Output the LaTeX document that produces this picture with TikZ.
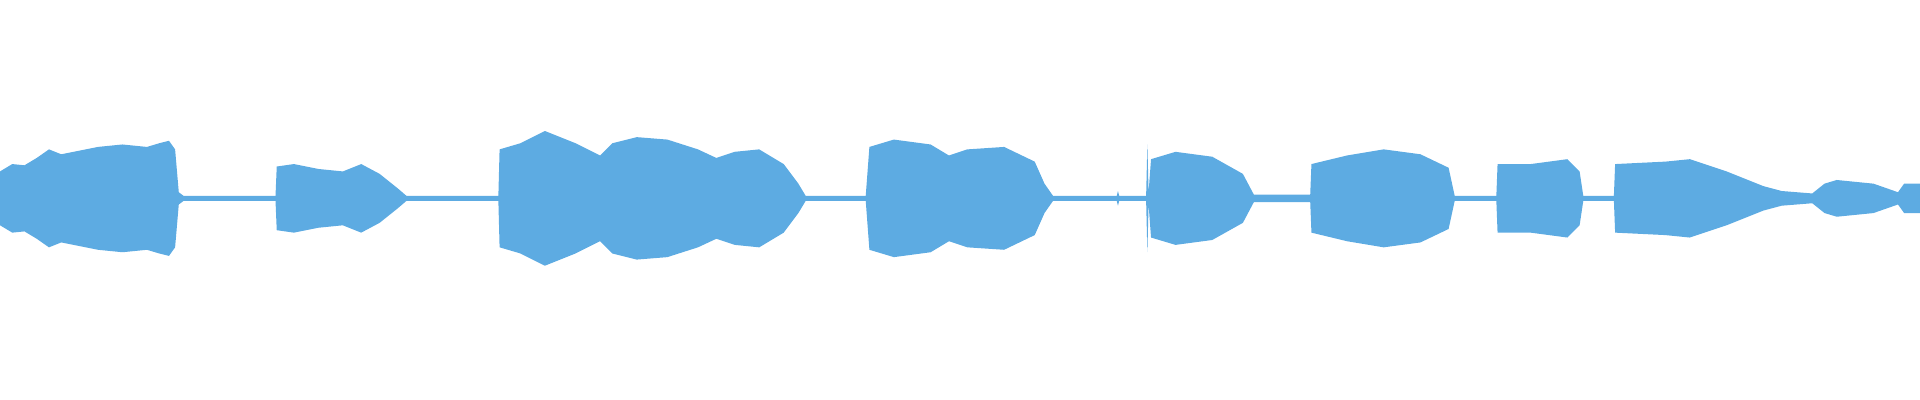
\documentclass[tikz,border=0pt]{standalone}
\definecolor{wave}{RGB}{93,171,226}
\begin{document}
\begin{tikzpicture}[x=0.012245cm,y=-0.012245cm]
\useasboundingbox (0,0) rectangle (1568,326.6);
\def\env{0/22,10/28,20/27,30/33,40/40,50/36,60/38,80/42,100/44,120/42,130/45,138/47,143/40,146/5,150/2,225/2,226/26,240/28,260/24,280/22,295/28,310/20,325/8,332/2,407/2,408/40,425/45,445/55,470/45,490/35,500/45,520/50,545/48,570/40,585/33,600/38,620/40,640/28,652/12,658/2,707/2,710/42,730/48,760/44,775/35,790/40,820/42,845/30,853/12,860/2,912/2,913/6,914/2,936/2,937/44,938/5,940/32,960/38,990/34,1015/20,1024/3,1070/3,1071/28,1100/35,1130/40,1160/36,1183/25,1188/2,1222/2,1223/28,1250/28,1280/32,1290/22,1293/2,1318/2,1319/28,1360/30,1380/32,1410/22,1440/10,1455/6,1480/4,1490/12,1500/15,1530/12,1550/5,1555/12,1568/12}
\fill[wave] (0,162) \foreach \x/\a in \env { -- (\x,162-\a)} -- (1568,162) -- cycle;
\fill[wave] (0,162) \foreach \x/\a in \env { -- (\x,162+\a)} -- (1568,162) -- cycle;
\draw[wave,line width=0.4pt] (0,162) -- (1568,162);
\end{tikzpicture}
\end{document}
